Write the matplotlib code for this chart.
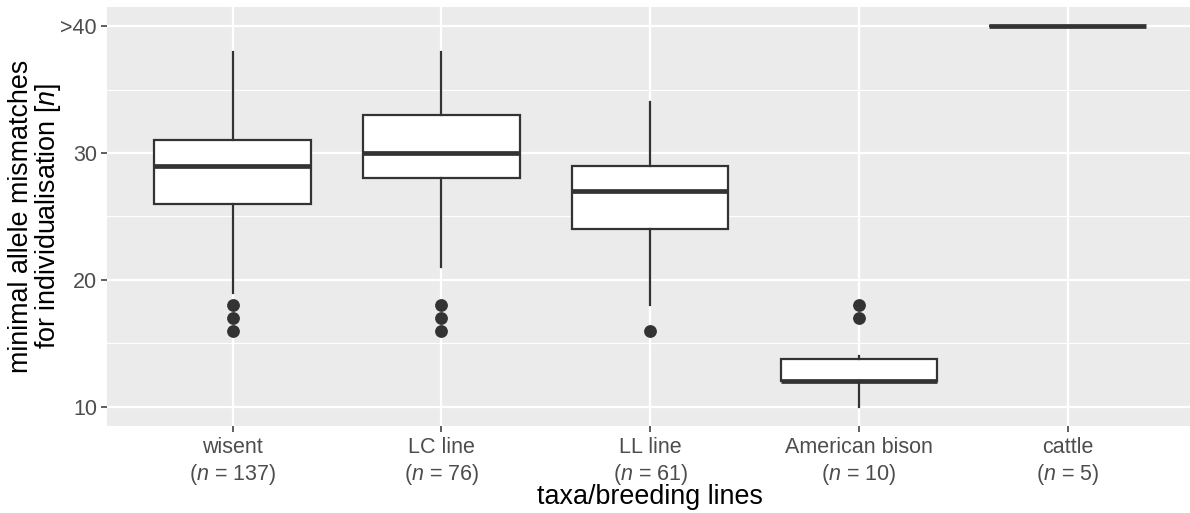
import numpy as np
import matplotlib
matplotlib.use("Agg")
import matplotlib.pyplot as plt

plt.rcParams['font.family'] = ['Liberation Sans', 'DejaVu Sans']
plt.rcParams['mathtext.fontset'] = 'custom'
plt.rcParams['mathtext.rm'] = 'Liberation Sans'
plt.rcParams['mathtext.it'] = 'Liberation Sans:italic'

# taxa / breeding lines and sample sizes
groups = ['wisent', 'LC line', 'LL line', 'American bison', 'cattle']
n_ind = [137, 76, 61, 10, 5]

# box statistics
whis_lo = [19, 21, 18, 10, 40]
q1 = [26, 28, 24, 12, 40]
med = [29, 30, 27, 12, 40]
q3 = [31, 33, 29, 13.75, 40]
whis_hi = [38, 38, 34, 14, 40]
outliers = [[16, 17, 18], [16, 17, 18], [16], [17, 18], []]

y_ticks = [10, 20, 30, 40]
y_ticklabels = ['10', '20', '30', '>40']

stats = []
for i in range(len(groups)):
    stats.append({'med': med[i], 'q1': q1[i], 'q3': q3[i],
                  'whislo': whis_lo[i], 'whishi': whis_hi[i],
                  'fliers': outliers[i]})

fig = plt.figure(figsize=(11.9, 5.13), dpi=100)
ax = fig.add_axes([0.0902, 0.1702, 1.0025 - 0.0902, 0.9858 - 0.1702])
ax.set_facecolor('#EBEBEB')

pos = np.arange(1, len(groups) + 1)
dark = '#333333'
ax.bxp(stats, positions=pos, widths=0.75, showcaps=False, patch_artist=True,
       boxprops=dict(facecolor='white', edgecolor=dark, linewidth=1.6),
       whiskerprops=dict(color=dark, linewidth=1.6),
       medianprops=dict(color=dark, linewidth=3.4, solid_capstyle='butt'),
       flierprops=dict(marker='o', markerfacecolor=dark, markeredgecolor=dark,
                       markersize=8.2),
       zorder=3)

ax.set_xlim(0.4, 5.6)
ax.set_ylim(8.5, 41.5)

ax.set_yticks(y_ticks)
ax.set_yticklabels(y_ticklabels)
ax.set_yticks([15, 25, 35], minor=True)
ax.set_xticks(pos)
ax.set_xticklabels([g + '\n($n$ = %d)' % k for g, k in zip(groups, n_ind)])

ax.grid(True, which='major', color='white', linewidth=1.6, zorder=0)
ax.grid(True, which='minor', axis='y', color='white', linewidth=0.8, zorder=0)
ax.set_axisbelow(True)
for s in ax.spines.values():
    s.set_visible(False)

ax.tick_params(axis='both', which='major', length=4.4, width=1.1, color=dark,
               labelsize=15.5, labelcolor='#4D4D4D', pad=3)
ax.tick_params(axis='y', which='minor', length=0)
ax.tick_params(axis='x', pad=4)

ax.set_xlabel('taxa/breeding lines', fontsize=19.4, labelpad=-2)
ax.set_ylabel('minimal allele mismatches\nfor individualisation [$n$]',
              fontsize=19.4, linespacing=0.95, va='center')
ax.yaxis.set_label_coords(-0.0665, 0.5)

fig.savefig('out.png', dpi=100)
